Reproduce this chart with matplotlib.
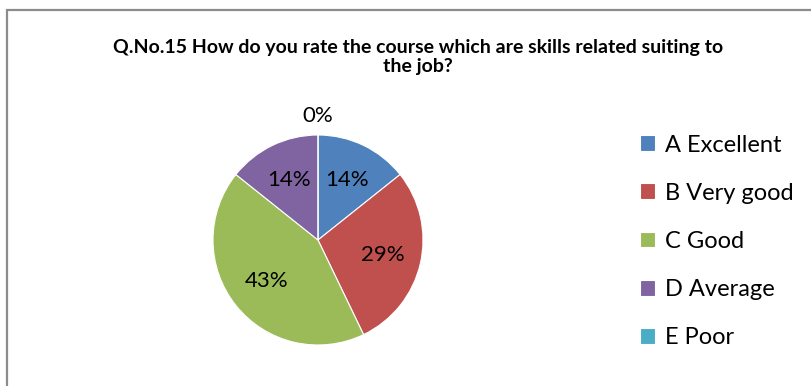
import matplotlib
matplotlib.use("Agg")
import matplotlib.pyplot as plt
from matplotlib.patches import Rectangle

categories = ["A Excellent", "B Very good", "C Good", "D Average", "E Poor"]
values = [1, 2, 3, 1, 0]
colors = ["#4F81BD", "#C0504D", "#9BBB59", "#8064A2", "#4BACC6"]
title = "Q.No.15 How do you rate the course which are skills related suiting to\nthe job?"

plt.rcParams['font.family'] = ['Lato', 'DejaVu Sans']

W, H = 812, 386
fig = plt.figure(figsize=(W / 100, H / 100), dpi=100)
fig.patch.set_facecolor("white")

# outer chart border
fig.patches.append(Rectangle((7 / W, -0.1), 1.2, (H - 10) / H + 0.1,
                             transform=fig.transFigure, fill=False,
                             edgecolor="#8c8c8c", linewidth=1.6))

cx, cy, r = 318, 240, 105
ax = fig.add_axes([(cx - r) / W, (H - cy - r) / H, 2 * r / W, 2 * r / H])
wedges, texts, autotexts = ax.pie(
    values, colors=colors, startangle=90, counterclock=False,
    autopct=lambda p: f"{p:.0f}%", pctdistance=0.63,
    wedgeprops=dict(edgecolor="white", linewidth=0.8),
    textprops=dict(fontsize=16, color="black"))
ax.set_xlim(-1, 1)
ax.set_ylim(-1, 1)
ax.set_aspect("auto")
ax.axis("off")
# zero slice label placed outside, as in the original
for v, t in zip(values, autotexts):
    if v == 0:
        t.set_position((0, 1.18))

fig.text(418 / W, 1 - 57 / H, title, ha="center", va="center",
         fontsize=14, fontweight="bold", linespacing=1.2)

fig.legend(wedges, categories, loc="upper left",
           bbox_to_anchor=(640 / W, 1 - 134.5 / H), frameon=False,
           fontsize=17, handlelength=0.65, handleheight=0.65,
           handletextpad=0.4, labelspacing=1.15, borderpad=0, borderaxespad=0)

fig.savefig("out.png", dpi=100)
